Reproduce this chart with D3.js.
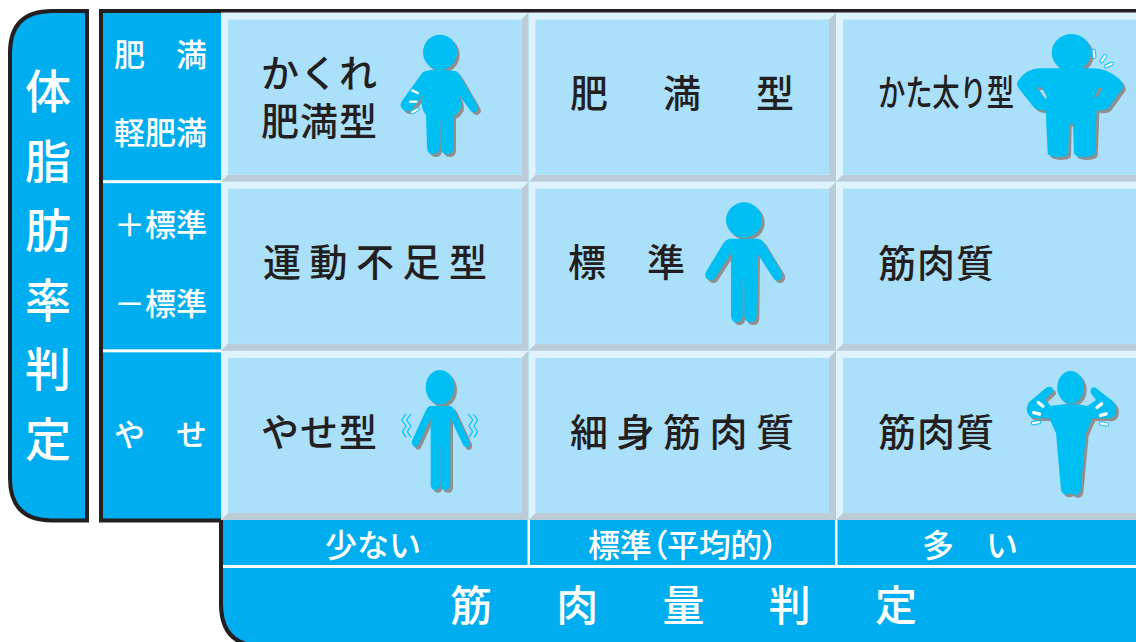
<!DOCTYPE html>
<html>
<head>
<meta charset="utf-8">
<script src="https://cdn.jsdelivr.net/npm/d3@7"></script>
<style>
  html, body { margin: 0; padding: 0; background: #fff; }
  svg { display: block; }
  text { font-family: "Noto Sans CJK JP", sans-serif; }
</style>
</head>
<body>
<div id="vis"></div>
<script>
var w = 1136;
var h = 642;

// labels
var sideTitle = ["体", "脂", "肪", "率", "判", "定"];
var rowKeys = ["high", "mid", "low"];
var colKeys = ["few", "normal", "many"];
var rowLabels = [["肥満", "軽肥満"], ["＋標準", "－標準"], ["やせ"]];
var colLabels = ["少ない", "標準（平均的）", "多い"];
var bottomTitle = ["筋", "肉", "量", "判", "定"];
var cellLabels = [
  [["かくれ", "肥満型"], ["肥満型"], ["かた太り型"]],
  [["運動不足型"], ["標準"], ["筋肉質"]],
  [["やせ型"], ["細身筋肉質"], ["筋肉質"]]
];

var blue = "#00aeef";
var ink = "#231f20";
var cellFill = "#abe0fb";
var bevelLight = "#dff3fe";
var bevelDark = "#bbccd6";
var figFill = "#00c0f3";
var figShadow = "#8f8f8f";

var canvas = d3.select("#vis").append("svg")
    .attr("width", w)
    .attr("height", h)
    .attr("viewBox", [0, 0, w, h]);

var x = d3.scaleBand().domain(colKeys).range([221, 1143.5]);
var y = d3.scaleBand().domain(rowKeys).range([12.5, 520]);

// outer shapes
canvas.append("path")
    .attr("d", "M87,11 L52,11 Q10,11 10,53 L10,478 Q10,520.5 52,520.5 L87,520.5 Z")
    .attr("fill", blue).attr("stroke", ink).attr("stroke-width", 4);

// bottom edge runs off the page
canvas.append("path")
    .attr("d", "M1140,11 L101,11 L101,520.5 L221,520.5 L221,604 Q221,646 262,646 L1140,646 Z")
    .attr("fill", blue).attr("stroke", ink).attr("stroke-width", 4);

// chars spread evenly between x0 and x1, so spaced-out labels stay one call
function spaced(text, x0, x1, cy, size, color, weight, sx) {
  var chars = Array.from(text);
  sx = sx || 1;
  var pos = d3.scalePoint().domain(d3.range(chars.length))
      .range([size * sx / 2, x1 - x0 - size * sx / 2]);
  var g = canvas.append("g").attr("transform", "translate(" + x0 + "," + (cy - 4) + ")");
  g.selectAll("text").data(chars).enter().append("text")
      .attr("transform", (d, i) => "translate(" + (chars.length > 1 ? pos(i) : (x1 - x0) / 2) + ",0) scale(" + sx + ",1)")
      .attr("text-anchor", "middle")
      .attr("dominant-baseline", "central")
      .attr("font-size", size)
      .attr("font-weight", weight || 500)
      .attr("fill", color)
      .text(d => d);
}

// cells with bevels
rowKeys.forEach(function(r) {
  colKeys.forEach(function(c) {
    var x0 = x(c), x1 = x0 + x.bandwidth();
    var y0 = y(r), y1 = y0 + y.bandwidth();
    var b = 7;
    var g = canvas.append("g");
    g.append("rect").attr("x", x0).attr("y", y0).attr("width", x1 - x0).attr("height", y1 - y0).attr("fill", bevelLight);
    g.append("path")
        .attr("d", d3.line()([[x1, y0], [x1, y1], [x0, y1], [x0 + b, y1 - b], [x1 - b, y1 - b], [x1 - b, y0 + b]]) + "Z")
        .attr("fill", bevelDark);
    g.append("rect").attr("x", x0 + b).attr("y", y0 + b).attr("width", x1 - x0 - 2 * b).attr("height", y1 - y0 - 2 * b).attr("fill", cellFill);
  });
});

// white rules in the blue bands
rowKeys.slice(1).forEach(function(r) {
  canvas.append("rect").attr("x", 103).attr("y", y(r) - 1.5).attr("width", 118).attr("height", 3).attr("fill", "#fff");
});
colKeys.slice(1).forEach(function(c) {
  canvas.append("rect").attr("x", x(c) - 1).attr("y", 520).attr("width", 2.5).attr("height", 46).attr("fill", "#fff");
});
canvas.append("rect").attr("x", 223).attr("y", 565).attr("width", w - 223).attr("height", 3).attr("fill", "#fff");

// text
var titleY = d3.scalePoint().domain(d3.range(sideTitle.length)).range([92, 440]);
sideTitle.forEach(function(t, i) {
  spaced(t, 25, 71, titleY(i), 46, "#fff");
});

spaced(rowLabels[0][0], 114, 207, 56, 31, "#fff");
spaced(rowLabels[0][1], 114, 207, 134, 31, "#fff");
spaced(rowLabels[1][0], 114, 207, 226, 31, "#fff");
spaced(rowLabels[1][1], 114, 207, 305, 31, "#fff");
spaced(rowLabels[2][0], 114, 207, 436, 31, "#fff");

spaced(cellLabels[0][0][0], 261, 377, 74, 38, ink);
spaced(cellLabels[0][0][1], 261, 377, 122, 38, ink);
spaced(cellLabels[0][1][0], 570, 794, 94, 38, ink);
spaced(cellLabels[0][2][0], 878, 1014, 94, 36, ink, 500, 0.76);
spaced(cellLabels[1][0][0], 263, 487, 263, 38, ink);
spaced(cellLabels[1][1][0], 568, 685, 263, 38, ink);
spaced(cellLabels[1][2][0], 878, 994, 264, 38, ink);
spaced(cellLabels[2][0][0], 261, 377, 433, 38, ink);
spaced(cellLabels[2][1][0], 570, 794, 433, 38, ink);
spaced(cellLabels[2][2][0], 878, 994, 433, 38, ink);

spaced(colLabels[0], 325, 421, 547, 32, "#fff");
canvas.append("text")
    .attr("x", 588).attr("y", 543)
    .attr("dominant-baseline", "central")
    .attr("font-size", 32).attr("font-weight", 500).attr("fill", "#fff")
    .style("font-feature-settings", "'palt'")
    .attr("textLength", 190).attr("lengthAdjust", "spacing")
    .text(colLabels[1]);
spaced(colLabels[2], 922, 1018, 547, 32, "#fff");

spaced(bottomTitle.join(""), 450, 917, 606, 42, "#fff");

// little figures, drawn in 3x units from the top left of each box
var fatBody = "M108,153 Q130,148 150,150 Q170,150 195,153 Q205,155 212,170 L262,255 Q270,270 255,276 Q245,280 238,268 L205,222 Q220,255 210,270 Q200,285 190,288 L190,385 Q188,403 172,403 Q155,403 152,385 L151,300 L149,300 L148,385 Q145,403 130,403 Q113,403 111,385 L108,285 Q95,270 95,250 Q95,235 100,225 L65,268 Q50,280 38,268 Q25,255 38,240 L90,168 Q97,155 108,153 Z";
var bigBody = "M150,205 L280,205 Q320,205 355,235 Q372,250 368,265 L325,325 Q310,335 290,330 L285,460 Q280,472 250,472 Q224,470 222,460 L219,372 L207,372 L205,460 Q205,470 175,472 Q145,470 143,460 L137,330 Q115,335 100,320 L60,270 Q48,255 52,245 Q80,205 120,205 Z M110,262 L125,262 L140,290 L137,300 Z M290,295 L308,265 L298,262 L286,285 Z";
var midBody = "M118,146 L205,146 Q215,148 222,158 L275,245 Q282,262 268,270 Q255,275 248,262 L202,190 L200,378 Q198,397 182,397 Q165,397 163,378 L162,265 L158,265 L158,378 Q156,397 140,397 Q125,397 123,378 L123,190 L75,265 Q65,275 52,268 Q40,258 50,242 L100,160 Q108,148 118,146 Z";
var thinBody = "M120,168 L180,168 Q190,170 195,182 L238,275 Q240,290 230,292 Q222,292 218,282 L181,205 L181,405 Q180,420 166,420 Q152,420 151,405 L151,288 L149,288 L149,405 Q148,420 136,420 Q123,420 122,405 L122,205 L85,285 Q78,295 70,288 Q62,280 68,268 L108,180 Q112,170 120,168 Z";
var flexBody = "M190,163 L232,163 L262,168 L288,150 L272,128 Q270,112 285,112 L340,155 Q355,175 345,195 Q335,208 320,205 L278,205 L258,250 L242,420 Q238,437 222,435 Q215,432 212,430 Q205,435 195,433 Q185,430 183,420 L168,250 L148,205 L105,205 Q85,205 80,180 Q80,160 95,150 L140,112 Q160,105 160,125 L135,148 L150,168 Z";

function figure(ox, oy, head, body, pills, zigzags) {
  var g = canvas.append("g").attr("transform", "translate(" + ox + "," + oy + ") scale(" + (1 / 3) + ")");
  [[8, figShadow], [0, figFill]].forEach(function(layer) {
    var f = g.append("g").attr("transform", "translate(" + layer[0] + "," + layer[0] + ")").attr("fill", layer[1]);
    f.append("ellipse").attr("cx", head[0]).attr("cy", head[1]).attr("rx", head[2]).attr("ry", head[3]);
    f.append("path").attr("d", body).attr("fill-rule", "evenodd");
  });
  (pills || []).forEach(function(p) {
    g.append("rect")
        .attr("x", -14).attr("y", -5).attr("width", 28).attr("height", 10).attr("rx", 5)
        .attr("transform", "translate(" + p[0] + "," + p[1] + ") rotate(" + p[2] + ")")
        .attr("fill", "#fff")
        .attr("stroke", p[3] ? figFill : "none")
        .attr("stroke-width", 3);
  });
  (zigzags || []).forEach(function(z) {
    g.append("path").attr("d", z).attr("fill", "none").attr("stroke", figFill).attr("stroke-width", 3.5);
  });
}

figure(390, 20, [150, 97, 51, 53], fatBody, [[75, 215, 25, 1], [70, 245, 0, 1], [75, 272, -30, 1]]);
figure(1000, 0, [214, 158, 59, 56], bigBody, [[282, 162, 85, 1], [310, 176, -55, 1], [327, 195, -25, 1]]);
figure(690, 190, [162, 90, 54, 53], midBody);
figure(390, 350, [150, 112, 43, 52], thinBody, [], [
  "M48,192 L35,210 L48,228 L37,245 L48,262", "M63,192 L50,210 L63,228 L52,245 L63,262",
  "M235,192 L248,210 L237,228 L248,245 L237,262", "M250,192 L263,210 L252,228 L263,245 L252,262"
]);
figure(1000, 350, [212, 112, 40, 49], flexBody, [
  [122, 163, 40], [110, 190, 15], [108, 218, -10, 1],
  [298, 167, -40], [310, 194, -15], [312, 222, 10, 1]
]);
</script>
</body>
</html>
